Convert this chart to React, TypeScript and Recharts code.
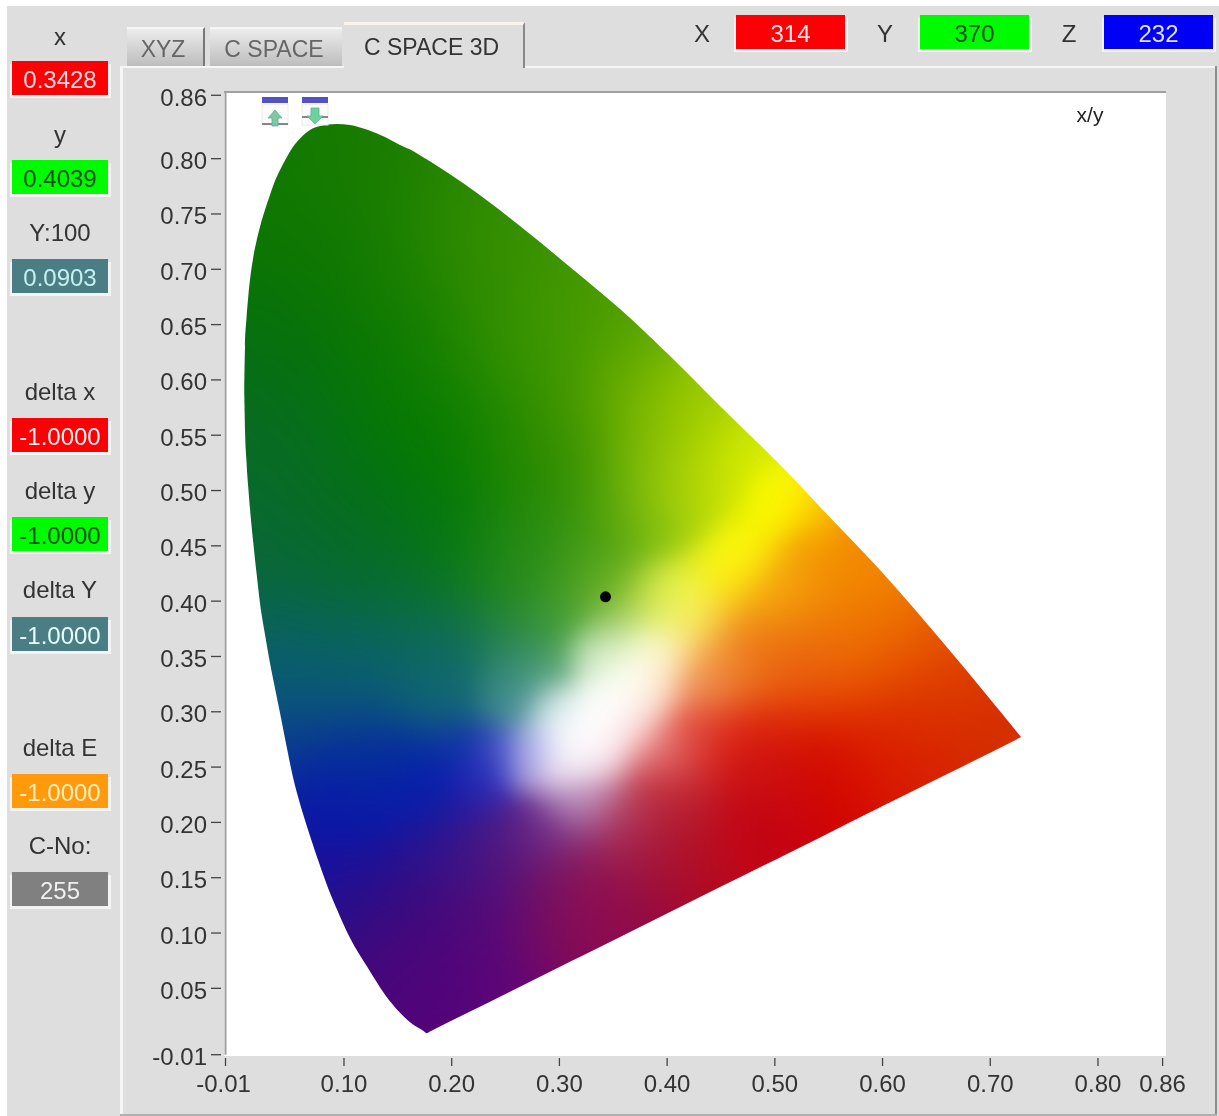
import React, { useMemo } from 'react';
import { ComposedChart, Area, Scatter, XAxis, YAxis } from 'recharts';

// Chromaticity locus: x, lower y, upper y
const locusX = [0.0074,0.0081,0.0095,0.0111,0.0158,0.0188,0.0220,0.0266,0.0313,0.0359,0.0406,0.0480,0.0526,0.0591,0.0684,0.0777,0.0851,0.0932,0.1056,0.1211,0.1381,0.1520,0.1641,0.1739,0.1768,0.1794,0.2105,0.2634,0.3098,0.3563,0.4027,0.4491,0.5187,0.5420,0.5977,0.6596,0.7286];
const locusLow = [0.5891,0.5547,0.5258,0.5032,0.4525,0.4254,0.3983,0.3703,0.3440,0.3214,0.2988,0.2625,0.2410,0.2170,0.1880,0.1610,0.1410,0.1220,0.0955,0.0701,0.0443,0.0280,0.0172,0.0115,0.0095,0.0108,0.0258,0.0515,0.0740,0.0965,0.1189,0.1415,0.1751,0.1864,0.2137,0.2435,0.2771];
const locusHigh = [0.5891,0.6298,0.6560,0.6750,0.7111,0.7255,0.7383,0.7536,0.7672,0.7798,0.7898,0.8034,0.8106,0.8183,0.8260,0.8296,0.8308,0.8314,0.8305,0.8264,0.8196,0.8124,0.8070,0.8011,0.7994,0.7978,0.7780,0.7392,0.7021,0.6641,0.6216,0.5764,0.5095,0.4851,0.4281,0.3585,0.2771];
const measuredPoint = [{ x: 0.3428, y: 0.4039 }];
const xTicks = [-0.01,0.1,0.2,0.3,0.4,0.5,0.6,0.7,0.8,0.86];
const yTicks = [-0.01,0.05,0.1,0.15,0.2,0.25,0.3,0.35,0.4,0.45,0.5,0.55,0.6,0.65,0.7,0.75,0.8,0.86];
const tabNames = ['XYZ', 'C SPACE', 'C SPACE 3D'];
const sideLabels = ['x','y','Y:100','delta x','delta y','delta Y','delta E','C-No:'];
const sideValues = ['0.3428','0.4039','0.0903','-1.0000','-1.0000','-1.0000','-1.0000','255'];
const topLabels = ['X','Y','Z'];
const topValues = ['314','370','232'];

const rows = locusX.map((x, i) => ({ x, range: [locusLow[i], locusHigh[i]] }));

const W = 1219, H = 1116;
const FONT = '"Liberation Sans", Arial, sans-serif';
const INK = '#333333';

// Colour texture behind the locus (page pixel position, then r g b)
const FIELD: number[][] = [
[340,130,20,120,0],[290,170,15,120,0],[400,160,35,130,0],[470,195,45,140,0],[260,260,10,115,5],[330,250,15,120,0],[400,270,25,128,0],[480,260,50,140,0],[530,240,65,150,0],
[250,350,5,110,20],[320,340,5,115,5],[390,350,10,120,0],[460,350,35,135,0],[520,350,60,150,0],[600,300,75,155,0],
[245,440,10,105,40],[300,440,5,110,30],[400,440,0,120,0],[450,440,5,125,0],[523,440,40,138,0],
[250,530,10,105,50],[350,530,5,110,25],[463,530,0,125,0],[523,530,40,140,10],
[263,560,10,100,60],[363,560,5,105,45],[447,560,10,115,35],[523,560,45,140,30],
[273,640,10,100,100],[363,640,10,105,90],[447,640,15,110,85],[513,640,50,140,80],
[280,680,10,85,130],[363,690,10,85,130],[447,690,20,100,130],[513,690,80,150,150],
[297,750,10,50,150],[363,750,10,50,150],[463,750,20,45,175],[497,750,50,60,200],[527,750,150,150,230],
[400,790,0,30,175],[340,790,0,30,170],[380,760,5,40,160],
[333,817,0,20,180],[333,867,35,15,145],[400,933,60,10,120],[433,1000,90,0,120],
[433,780,0,30,180],[483,783,40,40,190],[450,840,50,20,140],[517,840,90,30,130],[500,907,80,10,120],[567,907,130,20,90],[600,873,150,20,80],
[667,840,170,20,50],[733,840,190,10,25],[767,790,200,15,30],[833,790,210,0,0],[883,757,220,30,0],[667,783,200,50,60],[633,840,165,35,70],
[433,973,75,5,125],[500,973,100,5,120],[583,933,140,5,80],[650,907,150,10,60],[700,880,180,10,30],[767,850,200,0,20],
[580,757,255,255,255],[613,707,255,255,255],[653,657,255,255,240],[663,647,255,255,225],[530,747,190,190,240],[523,767,200,190,235],[563,757,255,255,255],
[560,775,240,230,248],[600,760,255,245,250],[640,690,255,255,245],[600,690,255,255,250],[565,725,250,250,255],[585,735,255,255,255],[625,670,255,255,245],
[545,745,235,235,250],[640,720,250,235,235],[655,690,255,245,225],[620,730,255,245,245],[555,710,235,245,248],[600,650,235,248,225],
[580,800,215,190,225],[563,820,130,70,150],[613,807,190,110,140],[660,748,240,170,170],[680,740,225,80,70],[713,740,220,40,30],[763,740,220,30,15],[763,773,200,10,10],[680,807,185,30,45],[763,823,190,0,10],
[730,657,240,140,40],[697,680,240,160,110],[773,657,235,105,20],[773,590,245,165,15],[730,573,255,250,20],[743,550,255,255,10],[680,600,240,250,70],[687,623,255,250,120],[647,607,200,225,90],[613,623,170,210,120],[606,597,120,180,40],[580,573,90,170,30],
[513,573,40,140,30],[563,623,70,160,70],[547,673,100,170,130],[513,673,50,140,120],[513,707,70,140,160],[547,707,210,230,235],[503,753,100,110,210],[487,767,40,50,190],[597,657,220,240,210],[630,640,240,250,210],[580,707,255,255,255],
[777,490,255,255,0],[800,500,255,225,0],[753,453,225,245,0],[720,420,190,220,0],[687,387,140,195,0],[637,337,95,170,0],[587,320,70,155,0],[553,353,60,150,0],[620,387,110,175,0],[570,420,80,155,0],[537,453,40,135,0],[653,453,135,190,0],[687,487,180,215,10],[720,487,225,240,0],[587,503,60,150,10],[653,503,130,190,20],
[770,510,255,255,0],[755,530,255,255,0],[735,560,255,255,20],[790,485,255,250,0],
[780,497,255,250,0],[813,513,250,200,0],[780,580,245,180,10],[847,580,245,150,0],[880,580,240,130,0],[813,647,235,110,15],[880,647,235,90,0],[947,663,225,70,0],[813,713,225,45,0],[913,713,220,50,0],[1013,737,215,50,0],[813,763,205,5,0],[913,763,215,20,0],[980,740,210,40,0],
];

function makeTexture(): string {
  const step = 3;
  const cw = Math.ceil(W / step), ch = Math.ceil(H / step);
  const c = document.createElement('canvas');
  c.width = cw; c.height = ch;
  const ctx = c.getContext('2d')!;
  const img = ctx.createImageData(cw, ch);
  // each sample spreads according to how close its third neighbour is
  const spread = FIELD.map((a) => {
    const ds = FIELD.map((b) => Math.hypot(a[0] - b[0], a[1] - b[1])).sort((p, q) => p - q);
    const s = Math.max(ds[3] * 0.6, 17);
    return 1 / (2 * s * s);
  });
  for (let j = 0; j < ch; j++) {
    const py = j * step;
    if (py < 110 || py > 1045) continue;
    for (let i = 0; i < cw; i++) {
      const px = i * step;
      if (px < 235 || px > 1030) continue;
      let sw = 0, r = 0, g = 0, b = 0;
      for (let n = 0; n < FIELD.length; n++) {
        const a = FIELD[n];
        const dx = px - a[0], dy = py - a[1];
        const w = Math.exp(-(dx * dx + dy * dy) * spread[n]) + 1e-40;
        sw += w; r += w * a[2]; g += w * a[3]; b += w * a[4];
      }
      const k = (j * cw + i) * 4;
      img.data[k] = r / sw; img.data[k + 1] = g / sw; img.data[k + 2] = b / sw; img.data[k + 3] = 255;
    }
  }
  ctx.putImageData(img, 0, 0);
  return c.toDataURL('image/png');
}

const YTick = (p: any) => {
  const v = p.payload.value;
  const nudge = v === 0.86 ? 3 : 0;
  return (
    <g>
      <line x1={211} x2={221} y1={p.y + nudge} y2={p.y + nudge} stroke="#444" strokeWidth={1.3} />
      <text x={207} y={p.y + nudge + 2} textAnchor="end" dominantBaseline="central" fontFamily={FONT} fontSize={24} fill={INK}>{v.toFixed(2)}</text>
    </g>
  );
};
const XTick = (p: any) => {
  const v = p.payload.value;
  return (
    <g>
      <line x1={p.x} x2={p.x} y1={1058} y2={1066} stroke="#444" strokeWidth={1.3} />
      <text x={v < 0 ? p.x - 2 : p.x} y={1083} textAnchor="middle" dominantBaseline="central" fontFamily={FONT} fontSize={24} fill={INK}>{v.toFixed(2)}</text>
    </g>
  );
};

const abs = (left: number, top: number, width: number, height: number, extra: any = {}) => ({ position: 'absolute' as const, left, top, width, height, ...extra });

const Caption = ({ cx, cy, text }: any) => (
  <div style={{ position: 'absolute', left: cx - 60, top: cy - 15, width: 120, height: 30, lineHeight: '30px', textAlign: 'center', fontFamily: FONT, fontSize: 24, color: INK }}>{text}</div>
);
const Box = ({ left, top, width, height, bg, color, text }: any) => (
  <div style={{ ...abs(left, top, width, height), background: bg, color, fontFamily: FONT, fontSize: 24, lineHeight: `${height + 4}px`, textAlign: 'center', boxShadow: '3px 3px 0 #f3f3f3, -2px 3px 0 #f3f3f3' }}>{text}</div>
);

const RED = '#fb0005', GREEN = '#00fa00', TEAL = '#4a7e84';
const sideCy = [37, 135, 233, 392, 491, 590, 748, 846];
const sideTop = [61, 160, 259, 418, 517, 617, 774, 872];
const sideBg = [RED, GREEN, TEAL, RED, GREEN, TEAL, '#ff9a0c', '#808080'];
const sideFg = ['#ffdcdc', '#0d4d12', '#c4f0f0', '#fff0f0', '#0d4d12', '#e8ffff', '#ffeec0', '#f0f0f0'];

const Icon = ({ left, down }: any) => (
  <svg style={abs(left, 96, 28, 32)} viewBox="0 0 28 32">
    <rect x="1" y="1" width="26" height="6" fill="#5252c4" />
    <rect x="1" y="8" width="26" height="21" fill="#fbfbfb" stroke="#ececec" />
    {down ? (
      <>
        <line x1="1" x2="27" y1="21" y2="21" stroke="#555" strokeWidth="1.4" />
        <path d="M10 12 h8 v8 h4 l-8 8 l-8 -8 h4 z" fill="#6fd29c" stroke="#5a9" strokeWidth="0.7" />
      </>
    ) : (
      <>
        <line x1="1" x2="27" y1="28" y2="28" stroke="#555" strokeWidth="1.4" />
        <path d="M14 14 l7 8 h-4 v8 h-6 v-8 h-4 z" fill="#7fc8a0" stroke="#5a9" strokeWidth="0.7" />
      </>
    )}
  </svg>
);

const tabText = { fontFamily: FONT, fontSize: 23, textAlign: 'center' as const, boxSizing: 'border-box' as const, paddingRight: 4 };

export default function App() {
  const texture = useMemo(makeTexture, []);
  return (
    <div style={{ ...abs(0, 0, W, H), background: '#ffffff', overflow: 'hidden', filter: 'blur(0.5px)' }}>
      <div style={{ ...abs(7, 6, 1212, 1110), background: '#dedede' }} />
      {/* tab panel edges */}
      <div style={{ ...abs(120, 66, 1095, 2), background: '#f6f6f6' }} />
      <div style={{ ...abs(120, 66, 3, 1050), background: '#f6f6f6' }} />
      <div style={{ ...abs(1215, 66, 2, 1049), background: '#8c8c8c' }} />
      <div style={{ ...abs(120, 1114, 1097, 2), background: '#b0b0b0' }} />
      {/* tabs */}
      <div style={{ ...abs(127, 27, 78, 39), ...tabText, background: 'linear-gradient(#ececec,#bdbdbd)', borderTop: '2px solid #f6f6f6', borderRight: '2px solid #777', color: '#666', lineHeight: '41px' }}>{tabNames[0]}</div>
      <div style={{ ...abs(210, 27, 132, 39), ...tabText, background: 'linear-gradient(#ececec,#bdbdbd)', borderTop: '2px solid #f6f6f6', color: '#666', lineHeight: '41px' }}>{tabNames[1]}</div>
      <div style={{ ...abs(344, 22, 181, 46), ...tabText, background: '#dedede', borderTop: '3px solid #f8f4e8', borderRight: '2px solid #888', color: INK, lineHeight: '44px' }}>{tabNames[2]}</div>

      {sideLabels.map((t, i) => <Caption key={t} cx={60} cy={sideCy[i]} text={t} />)}
      {sideValues.map((t, i) => <Box key={i} left={12} top={sideTop[i]} width={96} height={34} bg={sideBg[i]} color={sideFg[i]} text={t} />)}

      {topLabels.map((t, i) => <Caption key={t} cx={[702, 885, 1069][i]} cy={34} text={t} />)}
      {topValues.map((t, i) => <Box key={t} left={[736, 920, 1104][i]} top={15} width={109} height={34} bg={[RED, GREEN, '#0000f5'][i]} color={['#ffe0e0', '#0d4d12', '#e0e0ff'][i]} text={t} />)}

      {/* plot background */}
      <div style={{ ...abs(224, 92, 942, 964), background: '#ffffff' }} />
      <div style={{ ...abs(224, 91, 942, 2), background: '#a0a0a0' }} />

      <div style={abs(0, 0, W, H)}>
        <ComposedChart width={W} height={H} data={rows} margin={{ top: 92.3, right: 56.4, bottom: 21.3, left: 165.5 }}>
          <defs>
            <pattern id="cieField" patternUnits="userSpaceOnUse" x="0" y="0" width={W} height={H}>
              <image href={texture} x="0" y="0" width={W} height={H} preserveAspectRatio="none" />
            </pattern>
          </defs>
          <XAxis type="number" dataKey="x" domain={[-0.01, 0.86]} ticks={xTicks} interval={0} height={40} allowDataOverflow axisLine={false} tickLine={false} tick={XTick} />
          <YAxis type="number" domain={[-0.01, 0.86]} ticks={yTicks} interval={0} width={60} allowDataOverflow axisLine={{ stroke: '#a0a0a0', strokeWidth: 2 }} tickLine={false} tick={YTick} />
          <Area type="monotoneX" dataKey="range" stroke="none" fill="url(#cieField)" fillOpacity={1} isAnimationActive={false} dot={false} activeDot={false} />
          <Scatter data={measuredPoint} dataKey="y" isAnimationActive={false} shape={(p: any) => <circle cx={p.cx} cy={p.cy} r={5.5} fill="#000" />} />
        </ComposedChart>
      </div>

      <Icon left={261} />
      <Icon left={301} down />
      <div style={{ position: 'absolute', left: 1060, top: 101, width: 60, height: 28, lineHeight: '28px', textAlign: 'center', fontFamily: FONT, fontSize: 21, color: '#222' }}>x/y</div>
    </div>
  );
}
